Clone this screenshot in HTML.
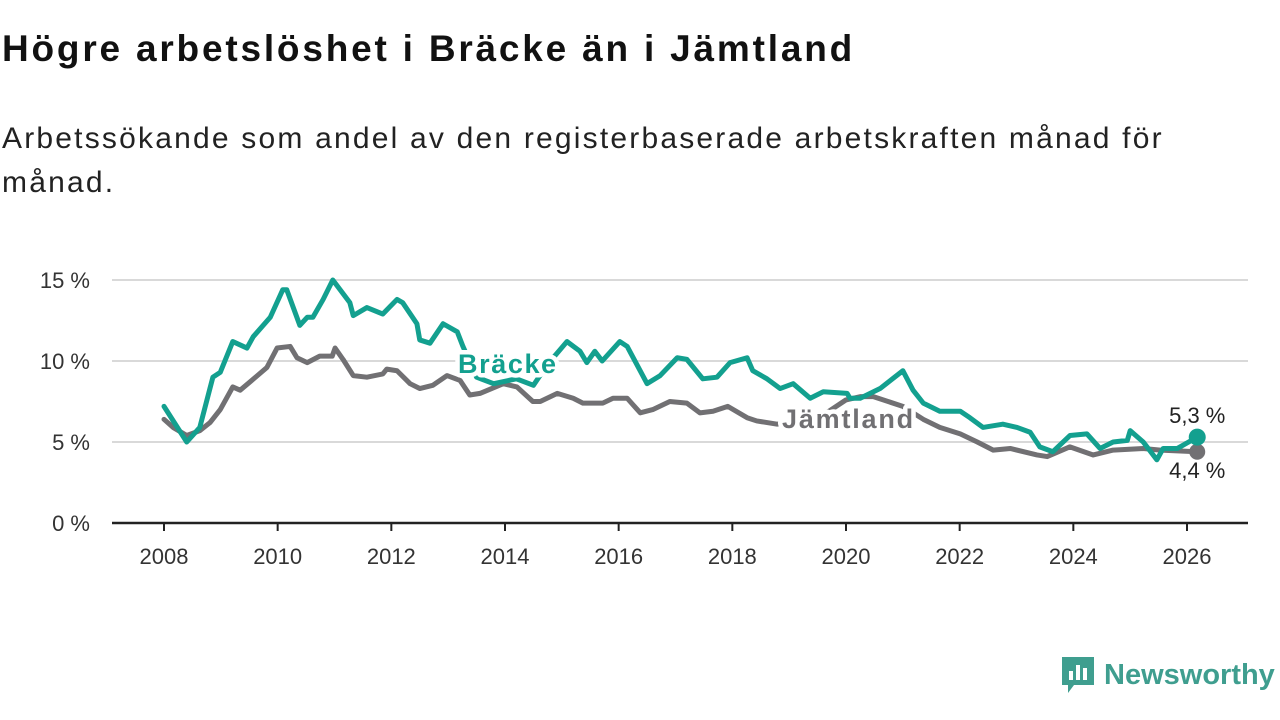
<!DOCTYPE html>
<html><head><meta charset="utf-8"><style>
body{margin:0;width:1280px;height:720px;background:#fff;font-family:"Liberation Sans",sans-serif;overflow:hidden;position:relative}
h1{position:absolute;left:2px;top:28px;margin:0;font-size:37px;letter-spacing:2.8px;font-weight:bold;color:#111;white-space:nowrap}
.sub{position:absolute;left:2px;top:117px;font-size:30px;letter-spacing:2.2px;line-height:44px;color:#222;width:1200px}
</style></head><body>
<h1>Högre arbetslöshet i Bräcke än i Jämtland</h1>
<div class="sub">Arbetssökande som andel av den registerbaserade arbetskraften månad för månad.</div>
<svg id="chart" width="1280" height="720" style="position:absolute;left:0;top:0"></svg>
<script>
const yTicks=[0,5,10,15];
const xTicks=[2008,2010,2012,2014,2016,2018,2020,2022,2024,2026];
const brackeDates=[2008.0,2008.4,2008.63,2008.86,2008.99,2009.21,2009.46,2009.57,2009.87,2010.09,2010.16,2010.39,2010.52,2010.62,2010.8,2010.97,2011.27,2011.33,2011.57,2011.85,2012.1,2012.2,2012.45,2012.5,2012.68,2012.91,2013.16,2013.26,2013.5,2013.8,2014.2,2014.5,2014.75,2014.97,2015.09,2015.32,2015.44,2015.58,2015.71,2016.02,2016.15,2016.5,2016.73,2017.03,2017.2,2017.48,2017.73,2017.96,2018.26,2018.36,2018.61,2018.84,2019.07,2019.37,2019.6,2020.02,2020.07,2020.25,2020.6,2021.0,2021.18,2021.36,2021.65,2022.01,2022.18,2022.41,2022.76,2023.01,2023.24,2023.41,2023.64,2023.94,2024.24,2024.47,2024.7,2024.95,2025.0,2025.23,2025.47,2025.58,2025.83,2026.18];
const brackeValues=[7.2,5.0,5.9,9.0,9.3,11.2,10.8,11.5,12.7,14.4,14.4,12.2,12.7,12.7,13.8,15.0,13.6,12.8,13.3,12.9,13.8,13.6,12.3,11.3,11.1,12.3,11.8,10.9,9.0,8.6,8.9,8.5,9.8,10.7,11.2,10.6,9.9,10.6,10.0,11.2,10.9,8.6,9.1,10.2,10.1,8.9,9.0,9.9,10.2,9.4,8.9,8.3,8.6,7.7,8.1,8.0,7.7,7.7,8.3,9.4,8.2,7.4,6.9,6.9,6.5,5.9,6.1,5.9,5.6,4.7,4.4,5.4,5.5,4.6,5.0,5.1,5.7,5.0,3.9,4.6,4.6,5.3];
const jamtDates=[2008.0,2008.16,2008.4,2008.63,2008.81,2008.99,2009.21,2009.34,2009.51,2009.81,2009.99,2010.22,2010.34,2010.52,2010.74,2010.96,2011.01,2011.15,2011.33,2011.57,2011.85,2011.92,2012.1,2012.33,2012.5,2012.73,2012.98,2013.21,2013.38,2013.56,2013.97,2014.21,2014.49,2014.62,2014.92,2015.2,2015.37,2015.72,2015.9,2016.15,2016.38,2016.6,2016.9,2017.2,2017.43,2017.66,2017.92,2018.26,2018.43,2018.79,2019.3,2019.7,2020.0,2020.25,2020.48,2021.0,2021.36,2021.65,2022.01,2022.31,2022.59,2022.89,2023.36,2023.54,2023.94,2024.35,2024.7,2025.23,2025.53,2026.18];
const jamtValues=[6.4,5.9,5.4,5.7,6.2,7.0,8.4,8.2,8.7,9.6,10.8,10.9,10.2,9.9,10.3,10.3,10.8,10.1,9.1,9.0,9.2,9.5,9.4,8.6,8.3,8.5,9.1,8.8,7.9,8.0,8.6,8.4,7.5,7.5,8.0,7.7,7.4,7.4,7.7,7.7,6.8,7.0,7.5,7.4,6.8,6.9,7.2,6.5,6.3,6.1,6.4,6.9,7.6,7.8,7.8,7.2,6.4,5.9,5.5,5.0,4.5,4.6,4.2,4.1,4.7,4.2,4.5,4.6,4.5,4.4];
const NS='http://www.w3.org/2000/svg';
const svg=document.getElementById('chart');
const X=v=>164+(v-2008)*(1187-164)/18;
const Y=v=>523-v*16.2;
function mk(t,a,p){const e=document.createElementNS(NS,t);for(const k in a)e.setAttribute(k,a[k]);(p||svg).appendChild(e);return e;}
yTicks.forEach(t=>{
  const g=mk('line',{x1:112,x2:1248,y1:Y(t),y2:Y(t),stroke:t===0?'#222':'#d9d9d9','stroke-width':t===0?2.5:2});
  
  
  const l=mk('text',{x:90,y:Y(t)+8,'text-anchor':'end','font-size':22,fill:'#333'});
  l.textContent=t+' %';
  
  
});
xTicks.forEach(t=>{
  const k=mk('line',{x1:X(t),x2:X(t),y1:523,y2:531,stroke:'#222','stroke-width':2});
  
  
  const l=mk('text',{x:X(t),y:564,'text-anchor':'middle','font-size':22,fill:'#333'});
  l.textContent=t;
  
  
});
function line(d,v,c,name){
  const p=mk('polyline',{points:d.map((x,i)=>X(x)+','+Y(v[i])).join(' '),fill:'none',stroke:c,'stroke-width':5,'stroke-linejoin':'round','stroke-linecap':'round'});
  
  
  return p;
}
line(jamtDates,jamtValues,'#717073','jamtland-line');
line(brackeDates,brackeValues,'#13a08f','bracke-line');
const jd=mk('circle',{cx:X(jamtDates[jamtDates.length-1]),cy:Y(jamtValues[jamtValues.length-1]),r:8,fill:'#717073'});


const bd=mk('circle',{cx:X(brackeDates[brackeDates.length-1]),cy:Y(brackeValues[brackeValues.length-1]),r:8.5,fill:'#13a08f'});


function lab(txt,x,y,c,name,bold,anchor,ls){
  const t=mk('text',{x:x,y:y,'font-size':bold?27:22,'font-weight':bold?'bold':'normal',fill:c,'text-anchor':anchor||'start',stroke:'#fff','stroke-width':bold?9:5,'paint-order':'stroke','stroke-linejoin':'round','letter-spacing':ls||0});
  t.textContent=txt;
  
  
}
lab('Bräcke',458,373,'#13a08f','bracke-label',true,'start',1.6);
lab('Jämtland',782,428,'#717073','jamtland-label',true,'start',1.8);
lab('5,3 %',X(2026.18),423,'#222','bracke-end-label',false,'middle');
lab('4,4 %',X(2026.18),478,'#222','jamtland-end-label',false,'middle');
</script>
<div style="position:absolute;left:1060px;top:655px;display:flex;align-items:center">
<svg width="36" height="40" viewBox="0 0 36 40"><path d="M2 2h32v28H14l-6 8v-8H2z" fill="#3f9e8f"/><rect x="9" y="16" width="4" height="9" fill="#fff"/><rect x="16" y="10" width="4" height="15" fill="#fff"/><rect x="23" y="13" width="4" height="12" fill="#fff"/></svg>
<span style="font-size:29px;font-weight:bold;color:#3f9e8f;margin-left:8px">Newsworthy</span></div>
</body></html>
